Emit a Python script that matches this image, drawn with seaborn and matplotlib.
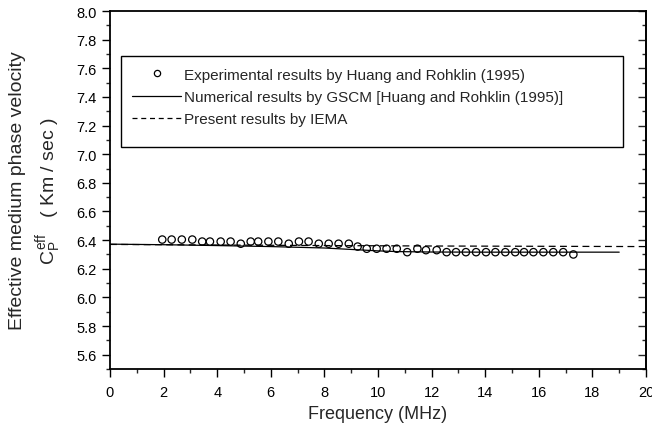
import numpy as np
import pandas as pd
import matplotlib
matplotlib.use("Agg")
import matplotlib.pyplot as plt
from matplotlib.lines import Line2D
from matplotlib.patches import Rectangle
import seaborn as sns

# ---- data ----
exp_freq = [1.95, 2.30, 2.68, 3.07, 3.44, 3.73, 4.13, 4.50, 4.88, 5.25, 5.53, 5.91, 6.28,
            6.67, 7.05, 7.41, 7.79, 8.16, 8.53, 8.91, 9.24, 9.58, 9.95, 10.32, 10.70,
            11.09, 11.47, 11.79, 12.19, 12.56, 12.91, 13.28, 13.66, 14.03, 14.38, 14.75,
            15.12, 15.45, 15.80, 16.17, 16.54, 16.91, 17.29]
exp_vel = [6.404, 6.404, 6.404, 6.404, 6.39, 6.39, 6.39, 6.39, 6.375, 6.39, 6.39, 6.39, 6.39,
           6.375, 6.39, 6.39, 6.375, 6.375, 6.375, 6.375, 6.355, 6.34, 6.34, 6.34, 6.34,
           6.316, 6.34, 6.33, 6.33, 6.316, 6.316, 6.316, 6.316, 6.316, 6.316, 6.316,
           6.316, 6.316, 6.316, 6.316, 6.316, 6.316, 6.30]

gscm_freq = [0.0, 2.0, 4.0, 6.0, 8.0, 9.0, 10.0, 10.7, 12.0, 14.0, 16.0, 18.0, 19.0]
gscm_vel = [6.372, 6.368, 6.362, 6.355, 6.345, 6.335, 6.325, 6.32, 6.317, 6.316, 6.316, 6.316, 6.316]

iema_freq = [0.0, 4.0, 8.0, 12.0, 16.0, 20.0]
iema_vel = [6.370, 6.366, 6.362, 6.359, 6.357, 6.355]

labels = ["Experimental results by Huang and Rohklin (1995)",
          "Numerical results by GSCM [Huang and Rohklin (1995)]",
          "Present results by IEMA"]

sns.set_style("ticks")
plt.rcParams["font.family"] = ["Liberation Sans", "DejaVu Sans"]
plt.rcParams["mathtext.fontset"] = "custom"
plt.rcParams["mathtext.rm"] = "Liberation Sans"
plt.rcParams["mathtext.it"] = "Liberation Sans"
plt.rcParams["mathtext.bf"] = "Liberation Sans:bold"

fig = plt.figure(figsize=(6.52, 4.35), dpi=100)
ax = fig.add_axes([0.1687, 0.1494, 0.8221, 0.8230])

df_exp = pd.DataFrame({"f": exp_freq, "v": exp_vel})
df_g = pd.DataFrame({"f": gscm_freq, "v": gscm_vel})
df_i = pd.DataFrame({"f": iema_freq, "v": iema_vel})

sns.lineplot(data=df_g, x="f", y="v", ax=ax, color="black", lw=0.9, sort=True)
sns.lineplot(data=df_i, x="f", y="v", ax=ax, color="black", lw=0.9,
             linestyle=(0, (5.5, 3.5)))
sns.scatterplot(data=df_exp, x="f", y="v", ax=ax, marker="o", s=28,
                facecolor="none", edgecolor="black", linewidth=0.9, zorder=3)

ax.set_xlim(0, 20)
ax.set_ylim(5.5, 8.0)
ax.set_xticks(np.arange(0, 21, 2))
ax.set_xticks(np.arange(0, 21, 1), minor=True)
yt = np.round(np.arange(5.6, 8.01, 0.2), 1)
ytm = np.round(np.arange(5.5, 8.01, 0.1), 1)
ax.set_yticks(yt)
ax.set_yticks(ytm, minor=True)
ax.set_xticklabels([str(v) for v in range(0, 21, 2)])
ax.set_yticklabels([f"{v:.1f}" for v in yt])

for s in ax.spines.values():
    s.set_visible(True)
    s.set_linewidth(1.3)
    s.set_color("black")

ax.tick_params(which="major", direction="out", length=5.5, width=1, labelsize=10.5,
               colors="black", top=False, right=False)
ax.tick_params(which="minor", direction="out", length=3, width=1,
               top=False, right=False)
ax.tick_params(axis="x", which="major", pad=6)
ax.tick_params(axis="y", which="major", pad=4)

# right side ticks pointing inward
sec = ax.secondary_yaxis("right")
sec.set_yticks(yt)
sec.set_yticks(ytm, minor=True)
sec.tick_params(which="major", direction="in", length=6, width=1, labelright=False)
sec.tick_params(which="minor", direction="in", length=3, width=1)
sec.spines["right"].set_linewidth(1.3)

ax.set_xlabel("Frequency (MHz)", fontsize=13, labelpad=4)
ax.set_ylabel("Effective medium phase velocity\n$C_P^{eff}$   ( Km / sec )",
              fontsize=14, labelpad=10, linespacing=1.4)

# legend frame
ax.add_patch(Rectangle((0.0205, 0.62), 0.9365, 0.254, transform=ax.transAxes,
                       fill=True, facecolor="white", edgecolor="black", lw=1.0, zorder=4))
handles = [Line2D([], [], marker="o", ls="none", mfc="none", mec="black", ms=4.5, mew=0.9),
           Line2D([], [], color="black", lw=0.9),
           Line2D([], [], color="black", lw=0.9, ls=(0, (4, 3)))]
leg = ax.legend(handles, labels, loc="upper left", bbox_to_anchor=(0.0205, 0.874),
                borderaxespad=0, fontsize=11, handlelength=3.2,
                handletextpad=0.15, labelspacing=0.55, borderpad=0.75, frameon=False)
leg.set_zorder(5)

fig.savefig("out.png", dpi=100)
